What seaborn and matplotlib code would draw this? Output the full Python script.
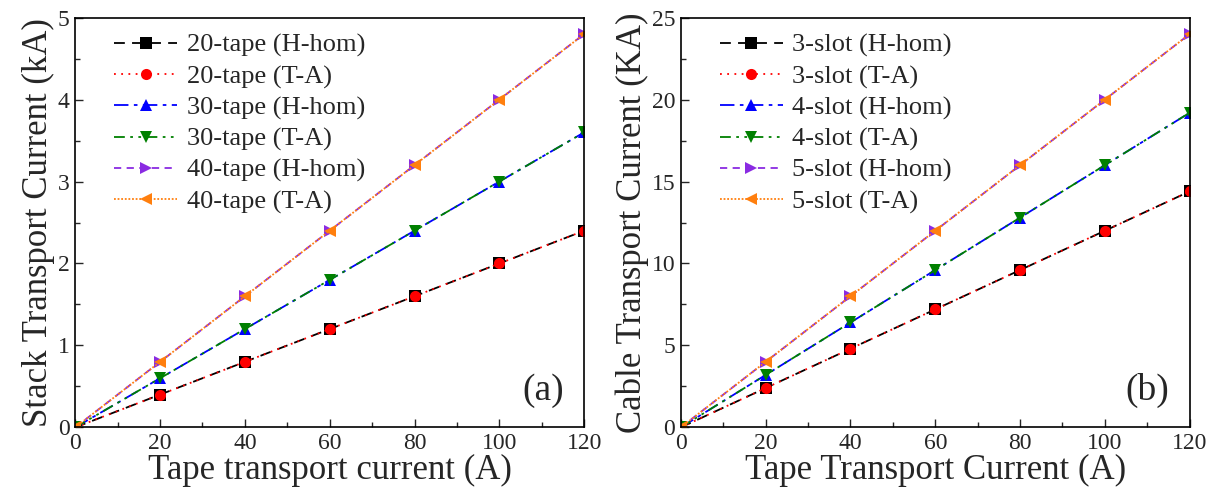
import matplotlib
matplotlib.use("Agg")
import matplotlib.pyplot as plt
import seaborn as sns
import pandas as pd
from matplotlib.ticker import MultipleLocator

sns.set_theme(style="ticks")
plt.rcParams['font.family'] = ['Liberation Serif', 'DejaVu Serif']
plt.rcParams['mathtext.fontset'] = 'stix'

x = [0, 20, 40, 60, 80, 100, 120]
# Panel (a): stack transport current (kA)
tape20_hhom = [0, 0.4, 0.8, 1.2, 1.6, 2.0, 2.4]
tape20_ta = [0, 0.4, 0.8, 1.2, 1.6, 2.0, 2.4]
tape30_hhom = [0, 0.6, 1.2, 1.8, 2.4, 3.0, 3.6]
tape30_ta = [0, 0.6, 1.2, 1.8, 2.4, 3.0, 3.6]
tape40_hhom = [0, 0.8, 1.6, 2.4, 3.2, 4.0, 4.8]
tape40_ta = [0, 0.8, 1.6, 2.4, 3.2, 4.0, 4.8]
labels_a = ["20-tape (H-hom)", "20-tape (T-A)", "30-tape (H-hom)",
            "30-tape (T-A)", "40-tape (H-hom)", "40-tape (T-A)"]
# Panel (b): cable transport current (kA)
slot3_hhom = [0, 2.4, 4.8, 7.2, 9.6, 12.0, 14.4]
slot3_ta = [0, 2.4, 4.8, 7.2, 9.6, 12.0, 14.4]
slot4_hhom = [0, 3.2, 6.4, 9.6, 12.8, 16.0, 19.2]
slot4_ta = [0, 3.2, 6.4, 9.6, 12.8, 16.0, 19.2]
slot5_hhom = [0, 4.0, 8.0, 12.0, 16.0, 20.0, 24.0]
slot5_ta = [0, 4.0, 8.0, 12.0, 16.0, 20.0, 24.0]
labels_b = ["3-slot (H-hom)", "3-slot (T-A)", "4-slot (H-hom)",
            "4-slot (T-A)", "5-slot (H-hom)", "5-slot (T-A)"]

colors = ["black", "red", "blue", "green", "#8a2be2", "#ff7f0e"]
markers = ["s", "o", "^", "v", ">", "<"]
styles = [(0, (6, 4)), (0, (1, 3)), (0, (8, 3, 2, 3)), (0, (6, 3, 1.5, 3, 1.5, 3)),
          (0, (4, 3)), (0, (1, 1))]

fig, axes = plt.subplots(1, 2, figsize=(12.14, 5.04), dpi=100)
fig.subplots_adjust(left=0.062, right=0.98, top=0.965, bottom=0.152, wspace=0.19)

def draw(ax, series, labels, ylim, ymaj, ymin, ylabel, xlabel, tag):
    for s, lab, c, m, ls in zip(series, labels, colors, markers, styles):
        df = pd.DataFrame({"x": x, "y": s})
        sns.lineplot(data=df, x="x", y="y", ax=ax, color=c, marker=m, linestyle=ls,
                     linewidth=1.3, markersize=8, markeredgewidth=0, label=lab)
    ax.set_xlim(0, 120)
    ax.set_ylim(*ylim)
    ax.xaxis.set_major_locator(MultipleLocator(20))
    ax.xaxis.set_minor_locator(MultipleLocator(10))
    ax.yaxis.set_major_locator(MultipleLocator(ymaj))
    ax.yaxis.set_minor_locator(MultipleLocator(ymin))
    ax.tick_params(which="both", direction="in", top=False, right=False)
    ax.tick_params(which="major", length=6, width=1, labelsize=17, pad=4)
    ax.tick_params(which="minor", length=3.5, width=1)
    for sp in ax.spines.values():
        sp.set_linewidth(1.2)
        sp.set_color("black")
    ax.set_xlabel(xlabel, fontsize=25, labelpad=0)
    ax.set_ylabel(ylabel, fontsize=25, labelpad=2)
    ax.text(0.96, 0.09, tag, transform=ax.transAxes, fontsize=27, ha="right", va="center")
    ax.legend(loc="upper left", frameon=False, fontsize=19, handlelength=2.4,
              handletextpad=0.35, labelspacing=0.28, borderaxespad=0.2,
              bbox_to_anchor=(0.045, 1.0))

draw(axes[0], [tape20_hhom, tape20_ta, tape30_hhom, tape30_ta, tape40_hhom, tape40_ta],
     labels_a, (0, 5), 1, 0.5, "Stack Transport Current (kA)", "Tape transport current (A)", "(a)")
draw(axes[1], [slot3_hhom, slot3_ta, slot4_hhom, slot4_ta, slot5_hhom, slot5_ta],
     labels_b, (0, 25), 5, 2.5, "Cable Transport Current (KA)", "Tape Transport Current (A)", "(b)")

fig.savefig("out.png", dpi=100)
